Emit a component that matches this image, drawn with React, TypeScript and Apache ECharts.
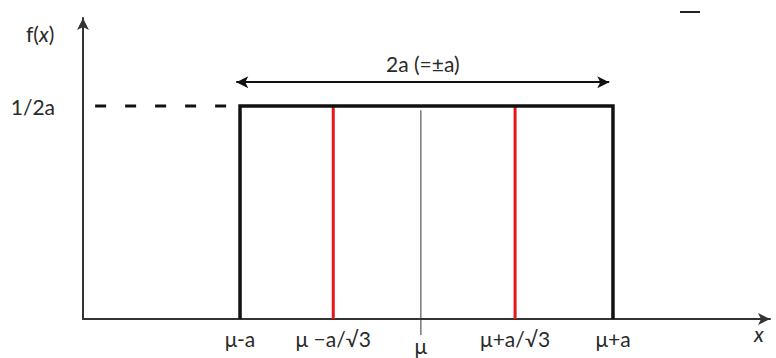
import React, { useEffect, useRef } from "react";
import * as echarts from "echarts";

// x positions in units of a (μ = 0)
const tickValues = [-1, -0.5, -0.03, 0.475, 1];
const tickLabels = ["μ-a", "μ −a/√3", "μ", "μ+a/√3", "μ+a"];
const densityLevel = 0.5; // 1/2a
const rectX = [-1, -1, 1, 1];
const rectY = [0, densityLevel, densityLevel, 0];
const redLineX = [-0.5, 0.475];
const centreX = -0.03;
const dashedFromX = -1.777;
const spanArrowX = [-1.02, 0.98];
const spanArrowY = 0.556;

const FONT = "Lato, 'Open Sans', sans-serif";
const FS = 21;
const TXT = "#2a2a2a";

export default function App() {
  const ref = useRef<HTMLDivElement>(null);
  useEffect(() => {
    if (!ref.current) return;
    const chart = echarts.init(ref.current, null, { renderer: "svg" });
    const seriesLine = (data: number[][], color: string, width: number, extra: any = {}) => ({
      type: "line",
      data,
      symbol: "none",
      silent: true,
      animation: false,
      lineStyle: { color, width, cap: "butt", join: "miter" },
      ...extra,
    });
    chart.setOption({
      animation: false,
      textStyle: { fontFamily: FONT },
      grid: { left: 83, right: 6, top: 18, bottom: 39 },
      xAxis: {
        type: "value",
        min: -1.842,
        max: 1.842,
        splitLine: { show: false },
        axisTick: { show: false },
        axisLine: {
          show: true,
          onZero: false,
          symbol: ["none", "arrow"],
          symbolSize: [9, 12],
          lineStyle: { color: "#333", width: 2 },
        },
        axisLabel: {
          customValues: tickValues,
          margin: 9,
          color: TXT,
          fontSize: FS,
          fontFamily: FONT,
          formatter: (v: number) => {
            const i = tickValues.findIndex((t) => Math.abs(t - v) < 1e-6);
            const s = i >= 0 ? tickLabels[i] : "";
            return s === "μ" ? "{m|μ}" : s;
          },
          rich: { m: { fontSize: FS, fontFamily: FONT, color: TXT, padding: [7, 0, 0, 0] } },
        },
      },
      yAxis: {
        type: "value",
        min: 0,
        max: 0.7066,
        splitLine: { show: false },
        axisTick: { show: false },
        axisLine: {
          show: true,
          onZero: false,
          symbol: ["none", "arrow"],
          symbolSize: [9, 12],
          lineStyle: { color: "#333", width: 2 },
        },
        axisLabel: {
          customValues: [densityLevel],
          margin: 28,
          color: TXT,
          fontSize: FS,
          fontFamily: FONT,
          formatter: () => "1/2a",
        },
      },
      series: [
        seriesLine(
          [
            [dashedFromX, densityLevel],
            [rectX[0], densityLevel],
          ],
          "#111",
          3,
          { lineStyle: { color: "#111", width: 3, type: [11, 19], cap: "butt" } }
        ),
        seriesLine(
          [
            [centreX, 0.49],
            [centreX, -0.038],
          ],
          "#333",
          1,
          { clip: false }
        ),
        ...redLineX.map((x) =>
          seriesLine(
            [
              [x, 0],
              [x, densityLevel],
            ],
            "#e8141c",
            3
          )
        ),
        seriesLine(
          rectX.map((x, i) => [x, rectY[i]]),
          "#111",
          3.5,
          {
            markLine: {
              silent: true,
              animation: false,
              symbol: ["arrow", "arrow"],
              symbolSize: [9, 12],
              lineStyle: { color: "#111", width: 2, type: "solid" },
              label: {
                show: true,
                position: "middle",
                distance: 8,
                formatter: "2a (=±a)",
                color: TXT,
                fontSize: FS,
                fontFamily: FONT,
              },
              data: [
                [
                  { coord: [spanArrowX[0], spanArrowY] },
                  { coord: [spanArrowX[1], spanArrowY] },
                ],
              ],
            },
          }
        ),
      ],
      graphic: [
        {
          type: "text",
          left: 26,
          top: 23,
          style: {
            text: "{n|f(}{i|x}{n|)}",
            rich: {
              n: { fontSize: FS, fontFamily: FONT, fill: TXT },
              i: { fontSize: FS, fontFamily: FONT, fontStyle: "italic", fill: TXT },
            },
          },
        },
        {
          type: "text",
          left: 754,
          top: 323,
          style: { text: "x", fontSize: 21, fontFamily: FONT, fontStyle: "italic", fill: TXT },
        },
        {
          type: "line",
          shape: { x1: 680, y1: 12, x2: 700, y2: 12 },
          style: { stroke: "#222", lineWidth: 2 },
        },
      ],
    });
    return () => chart.dispose();
  }, []);
  return (
    <div
      ref={ref}
      style={{ position: "fixed", left: 0, top: 0, width: 776, height: 358, background: "#fff" }}
    />
  );
}
